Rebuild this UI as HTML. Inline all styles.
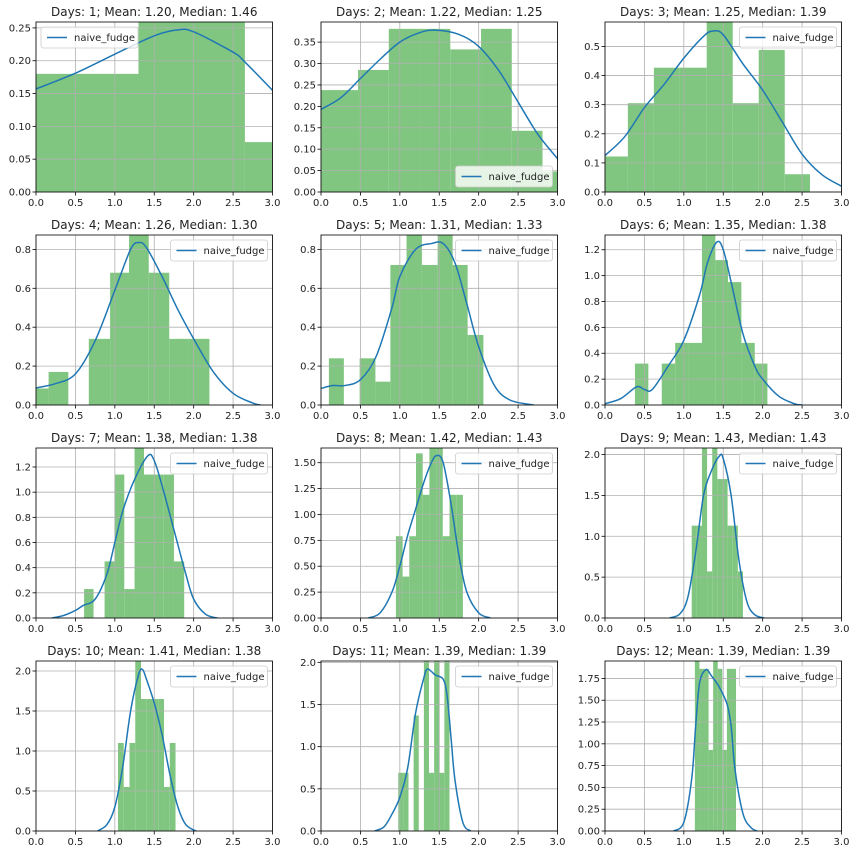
<!DOCTYPE html>
<html><head><meta charset="utf-8"><style>
body{margin:0;background:#fff;}
svg text{font-family:"DejaVu Sans","Liberation Sans",sans-serif;fill:#222;}
</style></head><body>
<svg id="fig" width="855" height="856" xmlns="http://www.w3.org/2000/svg"></svg>
<script>
const titles=["Days: 1; Mean: 1.20, Median: 1.46","Days: 2; Mean: 1.22, Median: 1.25","Days: 3; Mean: 1.25, Median: 1.39","Days: 4; Mean: 1.26, Median: 1.30","Days: 5; Mean: 1.31, Median: 1.33","Days: 6; Mean: 1.35, Median: 1.38","Days: 7; Mean: 1.38, Median: 1.38","Days: 8; Mean: 1.42, Median: 1.43","Days: 9; Mean: 1.43, Median: 1.43","Days: 10; Mean: 1.41, Median: 1.38","Days: 11; Mean: 1.39, Median: 1.39","Days: 12; Mean: 1.39, Median: 1.39"];
const yMaxes=[0.259,0.397,0.584,0.874,0.874,1.314,1.351,1.642,2.08,2.125,2.016,1.95];
const yTickSteps=[0.05,0.05,0.1,0.2,0.2,0.2,0.2,0.25,0.5,0.5,0.5,0.25];
const yTickDecimals=[2,2,1,1,1,1,1,2,1,1,1,2];
const xTicks=[0,0.5,1,1.5,2,2.5,3];
const binEdges=[
[0,1.3,2.65,3.2],
[0,0.47,0.86,1.25,1.64,2.03,2.42,2.81,3.2],
[0,0.29,0.62,0.95,1.29,1.62,1.95,2.28,2.6],
[-0.09,0.16,0.41,0.67,0.94,1.18,1.43,1.69,1.94,2.2],
[0.1,0.29,0.49,0.69,0.88,1.085,1.28,1.48,1.67,1.86,2.06],
[0.38,0.55,0.72,0.89,1.06,1.23,1.4,1.56,1.73,1.9,2.06],
[0.61,0.73,0.87,1.0,1.12,1.25,1.37,1.5,1.62,1.75,1.88],
[0.95,1.035,1.12,1.205,1.29,1.375,1.46,1.545,1.63,1.715,1.8],
[1.10,1.165,1.23,1.295,1.36,1.425,1.49,1.555,1.62,1.685,1.75],
[1.04,1.113,1.186,1.259,1.332,1.405,1.478,1.551,1.624,1.697,1.77],
[0.98,1.045,1.11,1.175,1.24,1.305,1.37,1.435,1.50,1.565,1.63],
[1.14,1.198,1.256,1.314,1.372,1.43,1.488,1.546,1.604,1.662]];
const binHeights=[
[0.18,0.30,0.076],
[0.238,0.285,0.381,0.381,0.333,0.381,0.143,0.048],
[0.122,0.305,0.427,0.427,0.62,0.305,0.488,0.061],
[0.085,0.17,0,0.34,0.68,0.95,0.68,0.34,0.34],
[0.24,0,0.24,0.12,0.72,0.95,0.72,0.95,0.72,0.36],
[0.32,0,0.32,0.48,0.48,1.4,1.12,0.95,0.48,0.32],
[0.23,0,0.45,1.14,0.23,1.45,1.14,1.14,1.14,0.45],
[0.79,0.40,0.79,1.59,1.19,1.75,1.75,0.79,1.19,1.19],
[1.13,1.13,2.2,0.57,2.2,1.7,1.7,1.13,1.13,0.57],
[1.1,0.55,1.1,2.2,1.65,1.65,1.65,1.65,0.55,1.1],
[0.69,0.69,0,1.37,0,2.1,0.69,2.1,0.69,2.1],
[2.0,1.86,1.86,0.93,2.0,1.86,0.93,1.86,1.86]];
const kdeX=[
[0,0.5,1.0,1.5,1.8,2.0,2.5,2.65,3.0],
[0,0.25,0.5,0.75,1.0,1.25,1.45,1.75,2.0,2.25,2.5,2.75,3.0],
[0,0.25,0.5,0.75,1.0,1.25,1.37,1.5,1.75,2.0,2.25,2.5,2.75,3.0],
[0,0.25,0.5,0.75,1.0,1.2,1.3,1.4,1.6,1.8,2.0,2.25,2.5,2.75,2.85],
[0,0.15,0.3,0.5,0.7,0.9,1.0,1.2,1.4,1.55,1.7,1.85,2.0,2.2,2.4,2.7],
[0,0.2,0.4,0.5,0.6,0.8,1.0,1.2,1.3,1.42,1.5,1.6,1.75,1.9,2.0,2.2,2.4,2.5],
[0.2,0.35,0.5,0.6,0.75,0.9,1.0,1.1,1.25,1.42,1.5,1.6,1.75,1.9,2.0,2.15,2.3],
[0.6,0.75,0.9,1.0,1.1,1.2,1.3,1.4,1.47,1.55,1.65,1.75,1.85,2.0,2.15],
[0.82,0.95,1.05,1.15,1.25,1.35,1.45,1.5,1.6,1.7,1.8,1.9,2.02],
[0.78,0.9,1.0,1.1,1.2,1.3,1.35,1.4,1.5,1.6,1.7,1.8,1.9,2.03],
[0.68,0.8,0.9,1.0,1.1,1.2,1.3,1.35,1.45,1.55,1.6,1.65,1.7,1.8,1.9],
[0.87,1.0,1.1,1.15,1.2,1.28,1.35,1.45,1.55,1.6,1.65,1.75,1.85,1.93]];
const kdeY=[
[0.157,0.181,0.21,0.238,0.247,0.244,0.213,0.198,0.155],
[0.193,0.22,0.265,0.31,0.35,0.372,0.378,0.368,0.34,0.285,0.21,0.135,0.078],
[0.125,0.19,0.29,0.37,0.46,0.535,0.553,0.54,0.44,0.35,0.24,0.13,0.06,0.02],
[0.088,0.11,0.16,0.33,0.59,0.8,0.835,0.81,0.66,0.49,0.34,0.17,0.06,0.01,0],
[0.085,0.1,0.1,0.13,0.25,0.5,0.66,0.8,0.83,0.83,0.73,0.52,0.3,0.1,0.025,0],
[0.01,0.05,0.14,0.12,0.12,0.3,0.5,0.85,1.1,1.26,1.2,0.95,0.55,0.3,0.2,0.07,0.01,0],
[0,0.02,0.06,0.1,0.15,0.35,0.6,0.85,1.1,1.29,1.25,1.05,0.7,0.35,0.15,0.03,0],
[0,0.05,0.25,0.5,0.8,1.05,1.3,1.5,1.57,1.5,1.1,0.6,0.25,0.05,0],
[0,0.05,0.25,0.8,1.5,1.8,1.98,1.95,1.5,0.7,0.2,0.04,0],
[0,0.08,0.3,0.8,1.5,1.95,2.02,1.9,1.6,1.2,0.7,0.3,0.08,0],
[0,0.05,0.2,0.4,0.75,1.4,1.8,1.92,1.85,1.8,1.6,1.1,0.6,0.1,0],
[0,0.1,0.6,1.2,1.7,1.85,1.78,1.65,1.45,1.2,0.7,0.2,0.04,0]];
const legendPos=["ul","lr","ur","ur","ur","ur","ur","ur","ur","ur","ur","ur"];

const NS="http://www.w3.org/2000/svg";
const fig=document.getElementById('fig');
const colL=[36,321,605], axW=236.5, rowT=[22,235,448,661], axH=170;
function mk(tag,attrs,parent){const e=document.createElementNS(NS,tag);for(const k in attrs)e.setAttribute(k,attrs[k]);parent.appendChild(e);return e;}
function smooth(pts){let d="M"+pts[0][0]+","+pts[0][1];for(let i=0;i<pts.length-1;i++){const p0=pts[Math.max(0,i-1)],p1=pts[i],p2=pts[i+1],p3=pts[Math.min(pts.length-1,i+2)];const c1=[p1[0]+(p2[0]-p0[0])/6,p1[1]+(p2[1]-p0[1])/6],c2=[p2[0]-(p3[0]-p1[0])/6,p2[1]-(p3[1]-p1[1])/6];d+=" C"+c1[0]+","+c1[1]+" "+c2[0]+","+c2[1]+" "+p2[0]+","+p2[1];}return d;}
for(let i=0;i<12;i++){
  const L=colL[i%3],T=rowT[Math.floor(i/3)],B=T+axH,R=L+axW;
  const xs=v=>L+v/3*axW, ys=v=>B-v/yMaxes[i]*axH;
  const g=mk('g',{},fig);
  
  
  const cid='c'+i;
  const cp=mk('clipPath',{id:cid},g);mk('rect',{x:L,y:T,width:axW,height:axH},cp);
  const t=mk('text',{x:L+axW/2,y:T-6,'text-anchor':'middle','font-size':12},g);t.textContent=titles[i];
  
  
  // bars
  const bg=mk('g',{'clip-path':'url(#'+cid+')'},g);
  binHeights[i].forEach((h,j)=>{if(h<=0)return;const x0=xs(binEdges[i][j]),x1=xs(binEdges[i][j+1]);
    const r=mk('rect',{x:x0,y:ys(h),width:x1-x0,height:B-ys(h),fill:'#80c680'},bg);
    
    });
  // grid & ticks
  xTicks.forEach(v=>{const x=xs(v);mk('line',{x1:x,x2:x,y1:T,y2:B,stroke:'#b0b0b0','stroke-width':0.8},g);
    mk('line',{x1:x,x2:x,y1:B,y2:B+3.5,stroke:'#000','stroke-width':0.8},g);
    const tx=mk('text',{x:x,y:B+14,'text-anchor':'middle','font-size':10},g);tx.textContent=v.toFixed(1);
    
    });
  const st=yTickSteps[i];
  for(let k=0;k*st<=yMaxes[i]+1e-9;k++){const v=k*st,y=ys(v);
    mk('line',{x1:L,x2:R,y1:y,y2:y,stroke:'#b0b0b0','stroke-width':0.8},g);
    mk('line',{x1:L-3.5,x2:L,y1:y,y2:y,stroke:'#000','stroke-width':0.8},g);
    const ty=mk('text',{x:L-5,y:y+3.5,'text-anchor':'end','font-size':10},g);ty.textContent=v.toFixed(yTickDecimals[i]);
    
    }
  // kde
  const pts=kdeX[i].map((x,j)=>[xs(x),ys(kdeY[i][j])]);
  const p=mk('path',{d:smooth(pts),fill:'none',stroke:'#1f77b4','stroke-width':1.5,'clip-path':'url(#'+cid+')'},g);
  
  
  mk('rect',{x:L,y:T,width:axW,height:axH,fill:'none',stroke:'#000','stroke-width':0.8},g);
  // legend
  const lw=97,lh=21;let lx,ly;
  if(legendPos[i]=='ul'){lx=L+5;ly=T+5;}else if(legendPos[i]=='lr'){lx=R-lw-5;ly=B-lh-5;}else{lx=R-lw-5;ly=T+5;}
  const lg=mk('g',{},g);
  
  
  mk('rect',{x:lx,y:ly,width:lw,height:lh,rx:2.5,fill:'#fff','fill-opacity':0.8,stroke:'#ccc','stroke-width':0.8},lg);
  mk('line',{x1:lx+6,x2:lx+26,y1:ly+lh/2,y2:ly+lh/2,stroke:'#1f77b4','stroke-width':1.5},lg);
  const lt=mk('text',{x:lx+33,y:ly+lh/2+3.5,'font-size':10},lg);lt.textContent='naive_fudge';
}
</script>
</body></html>
